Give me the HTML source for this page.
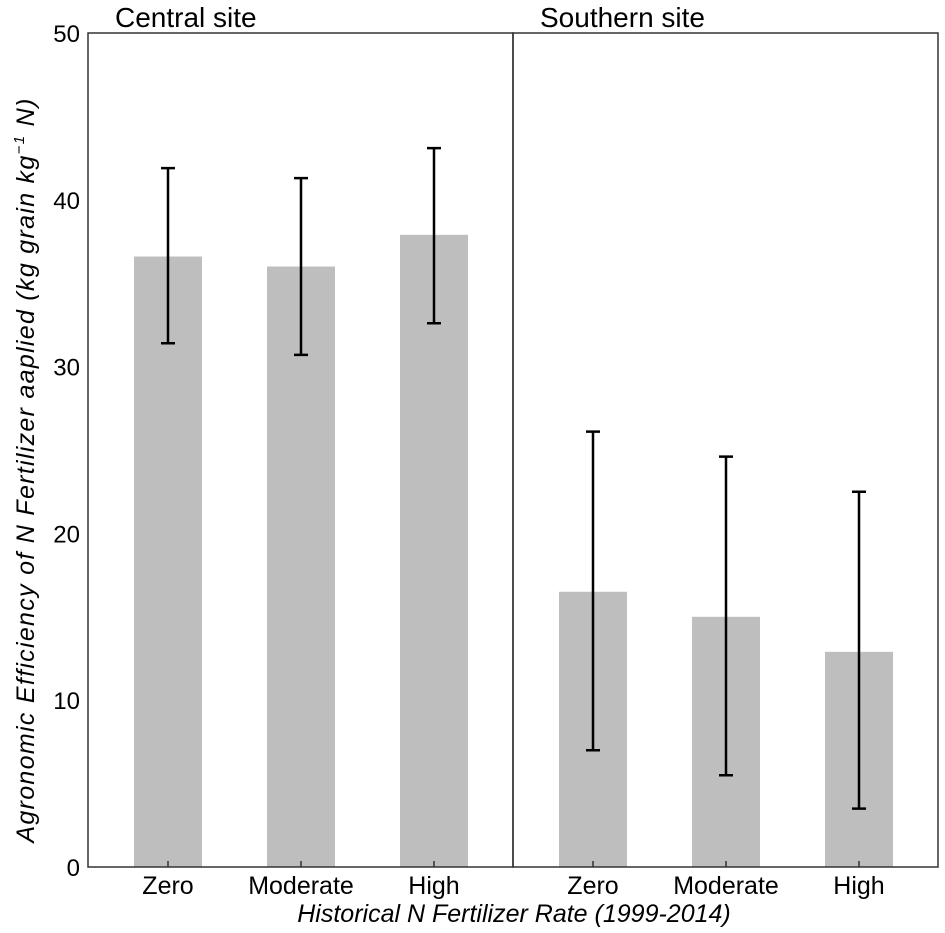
<!DOCTYPE html>
<html><head><meta charset="utf-8"><style>
body{margin:0;background:#fff}
svg{display:block;font-family:"Liberation Sans",Arial,sans-serif}
</style></head><body>
<svg id="chart" width="945" height="933"></svg>
<script>
const categories=["Zero","Moderate","High"];
const panels=["Central site","Southern site"];
const centralValues=[36.6,36.0,37.9];
const centralUpper=[41.9,41.3,43.1];
const centralLower=[31.4,30.7,32.6];
const southernValues=[16.5,15.0,12.9];
const southernUpper=[26.1,24.6,22.5];
const southernLower=[7.0,5.5,3.5];
const yTicks=[0,10,20,30,40,50];

const NS="http://www.w3.org/2000/svg";
const svg=document.getElementById('chart');
const L=88,T=33,B=867,PW=425;
const y=v=>B-(v/50)*(B-T);
const x=(p,i)=>L+p*PW+80+i*133;
function mk(tag,attrs,text){const e=document.createElementNS(NS,tag);for(const k in attrs)e.setAttribute(k,attrs[k]);if(text!==undefined)e.textContent=text;svg.appendChild(e);return e;}

const series=[[centralValues,centralUpper,centralLower],[southernValues,southernUpper,southernLower]];
series.forEach((s,p)=>{
  s[0].forEach((v,i)=>{
    const cx=x(p,i);
    const r=mk('rect',{x:cx-34,y:y(v),width:68,height:B-y(v),fill:'#bebebe'});
    
    
    const g=mk('path',{d:`M${cx},${y(s[1][i])}V${y(s[2][i])}M${cx-7},${y(s[1][i])}H${cx+7}M${cx-7},${y(s[2][i])}H${cx+7}`,stroke:'#000','stroke-width':2.5,fill:'none'});
    
    
    const tk=mk('line',{x1:cx,x2:cx,y1:B,y2:B-6,stroke:'#333','stroke-width':1.5});
    
    
    const tl=mk('text',{x:cx,y:B+27,'text-anchor':'middle','font-size':25},categories[i]);
    
    
  });
  const fr=mk('rect',{x:L+p*PW,y:T,width:PW,height:B-T,fill:'none',stroke:'#333','stroke-width':1.5});
  
  
  const st=mk('text',{x:L+p*PW+27,y:27,'font-size':28},panels[p]);
  
  
});
yTicks.forEach(v=>{
  const t=mk('text',{x:80,y:y(v)+9,'text-anchor':'end','font-size':24},String(v));
  
  
});
const xt=mk('text',{x:514,y:922,'text-anchor':'middle','font-size':25,'font-style':'italic'},'Historical N Fertilizer Rate (1999-2014)');


const yt=mk('text',{transform:'translate(34,470) rotate(-90)','text-anchor':'middle','font-size':25,'font-style':'italic','letter-spacing':'1.3'});


yt.innerHTML='Agronomic Efficiency of N Fertilizer aaplied (kg grain kg<tspan dy="-10" font-size="15">−1</tspan><tspan dy="10"> N)</tspan>';
</script>
</body></html>
